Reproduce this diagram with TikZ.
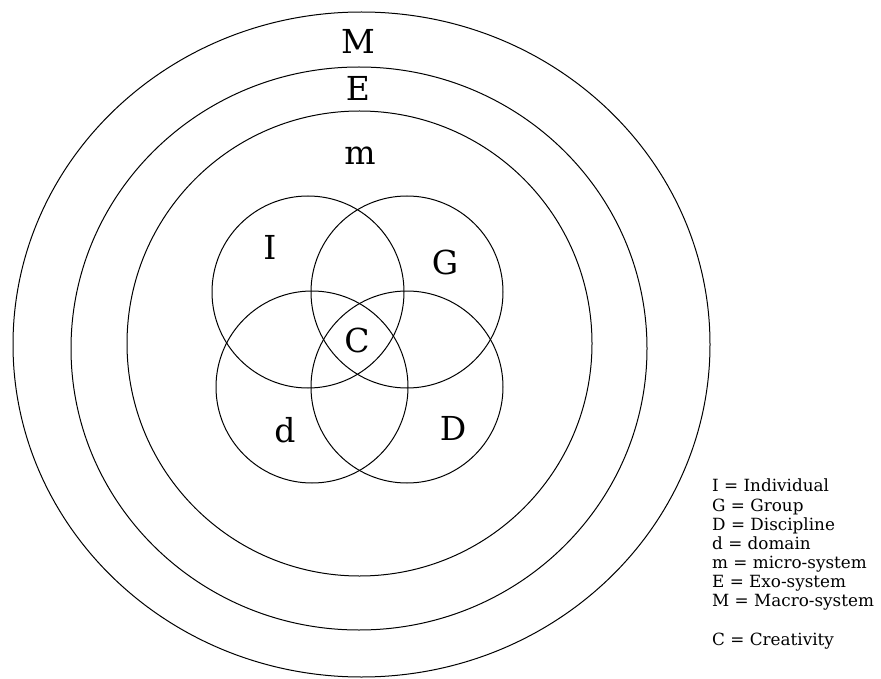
\documentclass[tikz,border=0pt]{standalone}
\usepackage{fontspec}
\setmainfont{DejaVu Serif}
\usetikzlibrary{positioning}

\begin{document}
\begin{tikzpicture}[
    x=1pt, y=-1pt,
    ring/.style={draw, line width=1pt},
    venn/.style={draw, circle, line width=1pt, minimum size=192pt, inner sep=0pt},
    tag/.style={font=\fontsize{33}{36}\selectfont, inner sep=0pt},
    key/.style={font=\fontsize{16.8}{19.1}\selectfont, align=left, inner sep=0pt}
]
\useasboundingbox (0,0) rectangle (881,679);

% system rings
\draw[ring] (361.5,344.5) ellipse [x radius=348.5pt, y radius=332.5pt];
\draw[ring] (359,348.5) ellipse [x radius=288pt, y radius=281.5pt];
\draw[ring] (359.5,343.5) ellipse [x radius=232.5pt, y radius=232.5pt];

\node[tag] (macro) at (358,41) {M};
\node[tag] (exo) at (358,88) {E};
\node[tag] (micro) at (360,156) {m};

% four overlapping circles
\node[venn] (indiv) at (308,292) {};
\node[venn] (group) at (407,292) {};
\node[venn] (domain) at (312,387) {};
\node[venn] (discip) at (407,387) {};

\node[tag] (indivlbl) at (270,247) {I};
\node[tag] (grouplbl) at (445,262) {G};
\node[tag] (creat) at (357,340) {C};
\node[tag] (domainlbl) at (285,430) {d};
\node[tag] (disciplbl) at (453,428) {D};

% legend
\node[key, anchor=north west] (legend) at (712,479) {I = Individual\\G = Group\\D = Discipline\\d = domain\\m = micro-system\\E = Exo-system\\M = Macro-system\\[20pt]C = Creativity};
\end{tikzpicture}
\end{document}
